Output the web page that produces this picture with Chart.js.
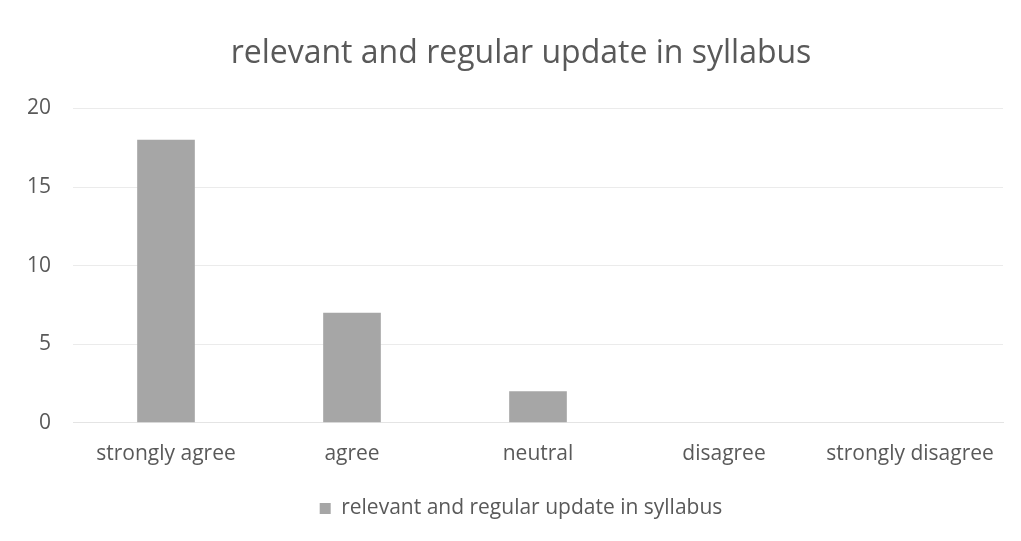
<!DOCTYPE html>
<html>
<head>
<meta charset="utf-8">
<script src="https://cdn.jsdelivr.net/npm/chart.js@4/dist/chart.umd.min.js"></script>
<style>
  html, body { margin: 0; padding: 0; background: #fff; }
  canvas { display: block; }
</style>
</head>
<body>
<canvas id="myBarChart" width="1021" height="541"></canvas>
<script>
var categories = ["strongly agree", "agree", "neutral", "disagree", "strongly disagree"];
var counts = [18, 7, 2, 0, 0];
var seriesName = "relevant and regular update in syllabus";
var yTicks = [0, 5, 10, 15, 20];

var textColor = "#595959";
var fontFamily = "'Open Sans', Lato, sans-serif";

// the y labels sit in the left padding, so widen their clip box
var unclipYLabels = {
    id: 'unclipYLabels',
    afterLayout: function (chart) { chart.scales.y.left = 0; }
};

var ctx = document.getElementById("myBarChart");
var myBarChart = new Chart(ctx, {
    type: 'bar',
    data: {
        labels: categories,
        datasets: [{
            label: seriesName,
            data: counts,
            backgroundColor: "#a6a6a6",
            borderWidth: 0,
            categoryPercentage: 1.0,
            barPercentage: 0.31
        }]
    },
    options: {
        responsive: false,
        animation: false,
        layout: { padding: { left: 39, right: 18, top: 0, bottom: 12 } },
        plugins: {
            title: {
                display: true,
                text: seriesName,
                color: textColor,
                font: { family: fontFamily, size: 32, weight: 'normal' },
                padding: { top: 35, bottom: 35 }
            },
            legend: {
                position: 'bottom',
                labels: {
                    color: textColor,
                    font: { family: fontFamily, size: 21 },
                    boxWidth: 11,
                    boxHeight: 11,
                    padding: 12
                }
            },
            tooltip: { enabled: false }
        },
        scales: {
            x: {
                grid: { display: false, drawTicks: false },
                border: { display: true, color: "#e4e4e4" },
                ticks: { color: textColor, font: { family: fontFamily, size: 21 }, padding: 19 }
            },
            y: {
                min: 0,
                max: 20,
                afterFit: function (scale) { scale.width = 34; },
                afterBuildTicks: function (scale) {
                    scale.ticks = yTicks.map(function (v) { return { value: v }; });
                },
                grid: { color: "#ebebeb", drawTicks: false },
                border: { display: false },
                ticks: { color: textColor, font: { family: fontFamily, size: 21 }, padding: 22 }
            }
        }
    },
    plugins: [unclipYLabels]
});
</script>
</body>
</html>
